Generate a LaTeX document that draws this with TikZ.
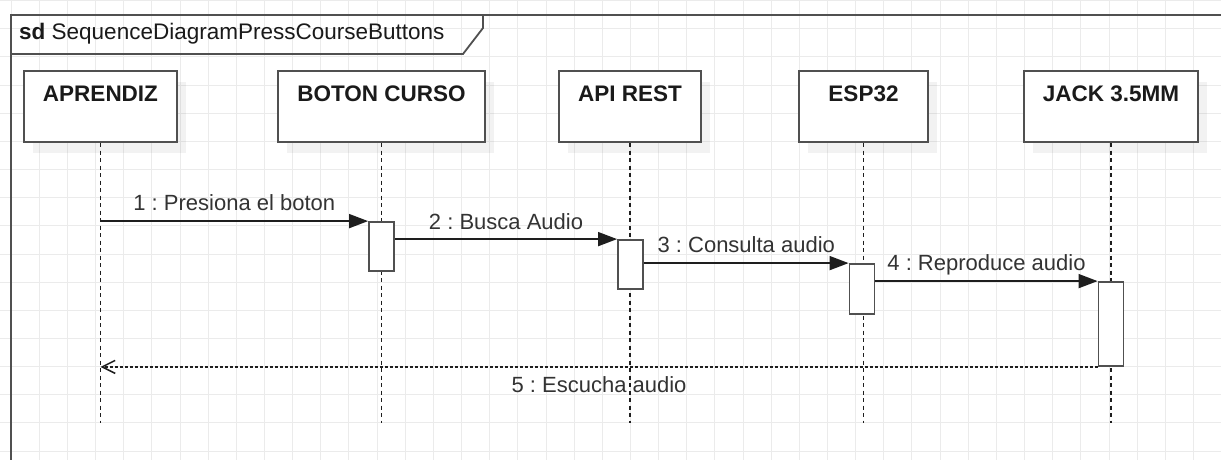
\documentclass[tikz,border=0pt]{standalone}
\usepackage{fontspec}
\setmainfont{Liberation Sans}
\usetikzlibrary{arrows.meta,shadows}
\definecolor{gridc}{HTML}{EBEBEB}
\definecolor{boxc}{HTML}{505050}
\definecolor{linec}{HTML}{1E1E1E}
\definecolor{txtc}{HTML}{333333}
\definecolor{headc}{HTML}{1A1A1A}
\frenchspacing
\begin{document}
\frenchspacing
\begin{tikzpicture}[x=1pt,y=-1pt,
  gridline/.style={draw=gridc,line width=1pt},
  frame/.style={draw=boxc,line width=1.8pt},
  head/.style={draw=boxc,fill=white,line width=2pt,inner sep=0pt,
    drop shadow={shadow xshift=9pt,shadow yshift=-11pt,fill=black,opacity=0.05}},
  headtxt/.style={anchor=base,inner sep=0pt,text=headc,font=\fontsize{22.5}{27}\selectfont\bfseries},
  act/.style={draw=boxc,fill=white,line width=1.8pt,minimum width=25pt,inner sep=0pt},
  life/.style={draw=linec,line width=1.3pt,dash pattern=on 4pt off 3.5pt},
  msg/.style={draw=linec,line width=1.6pt,-{Triangle[length=19pt,width=14pt]}},
  ret/.style={draw=linec,line width=1.6pt,dash pattern=on 3pt off 2pt,-{Straight Barb[length=13pt,width=13pt,line width=1.5pt]}},
  lbl/.style={anchor=base,inner sep=0pt,text=txtc,font=\fontsize{22}{26}\selectfont},
  titletxt/.style={anchor=base west,inner sep=0pt,text=headc,font=\fontsize{22.5}{27}\selectfont}
]
\useasboundingbox[fill=white] (0,0) rectangle (1221,460);
% grid
\foreach \i in {0,...,42} \draw[gridline] ({11.15+28.15*\i},0) -- ++(0,460);
\foreach \j in {0,...,16} \draw[gridline] (0,{0.7+28.15*\j}) -- ++(1221,0);
% frame
\draw[frame] (1230,15) -- (11,15) -- (11,470);
\draw[frame] (11,54) -- (463,54) -- (483,28) -- (483,15);
\node[titletxt] (title) at (19,40) {\textbf{sd} SequenceDiagramPressCourseButtons};
% heads
\node[head,minimum width=153pt,minimum height=71pt] (apr) at (100.5,106.5) {};
\node[head,minimum width=207pt,minimum height=71pt] (bot) at (381.5,106.5) {};
\node[head,minimum width=142pt,minimum height=71pt] (api) at (630,106.5) {};
\node[head,minimum width=129pt,minimum height=71pt] (esp) at (863.5,106.5) {};
\node[head,minimum width=174pt,minimum height=71pt] (jack) at (1111,106.5) {};
\node[headtxt] (aprT) at (100.5,101) {APRENDIZ};
\node[headtxt] (botT) at (381.5,101) {BOTON CURSO};
\node[headtxt] (apiT) at (630,101) {API REST};
\node[headtxt] (espT) at (863.5,101) {ESP32};
\node[headtxt] (jackT) at (1111,101) {JACK 3.5MM};
% lifeline ends
\coordinate (aprE) at (100.5,423);
\coordinate (botE) at (381.5,423);
\coordinate (apiE) at (630,423);
\coordinate (espE) at (863.5,423);
\coordinate (jackE) at (1111,423);
\draw[life] (apr.south) -- (aprE);
\draw[life] (bot.south) -- (botE);
\draw[life] (api.south) -- (apiE);
\draw[life] (esp.south) -- (espE);
\draw[life] (jack.south) -- (jackE);
% activations
\node[act,minimum height=49pt] (a1) at (381.5,246.5) {};
\node[act,minimum height=49pt] (a2) at (630.5,264.5) {};
\node[act,minimum height=50pt] (a3) at (862,289) {};
\node[act,minimum height=84pt] (a4) at (1111,324) {};
% messages
\coordinate (m1s) at (apr.south |- a1.north);
\draw[msg] (m1s) -- (a1.north west) node[lbl,midway,yshift=10.5pt] {1 : Presiona el boton};
\draw[msg] (a1.east |- a2.north) -- (a2.north west) node[lbl,midway,yshift=10pt] {2 : Busca Audio};
\draw[msg] (a2.east |- a3.north) -- (a3.north west) node[lbl,midway,yshift=10.5pt] {3 : Consulta audio};
\draw[msg] (a3.east |- a4.north) -- (a4.north west) node[lbl,midway,yshift=10.5pt] {4 : Reproduce audio};
\coordinate (m5e) at (apr.south |- a4.south);
\draw[ret] (a4.south west) -- (m5e) node[lbl,midway,yshift=-25.5pt] {5 : Escucha audio};
\end{tikzpicture}
\end{document}
